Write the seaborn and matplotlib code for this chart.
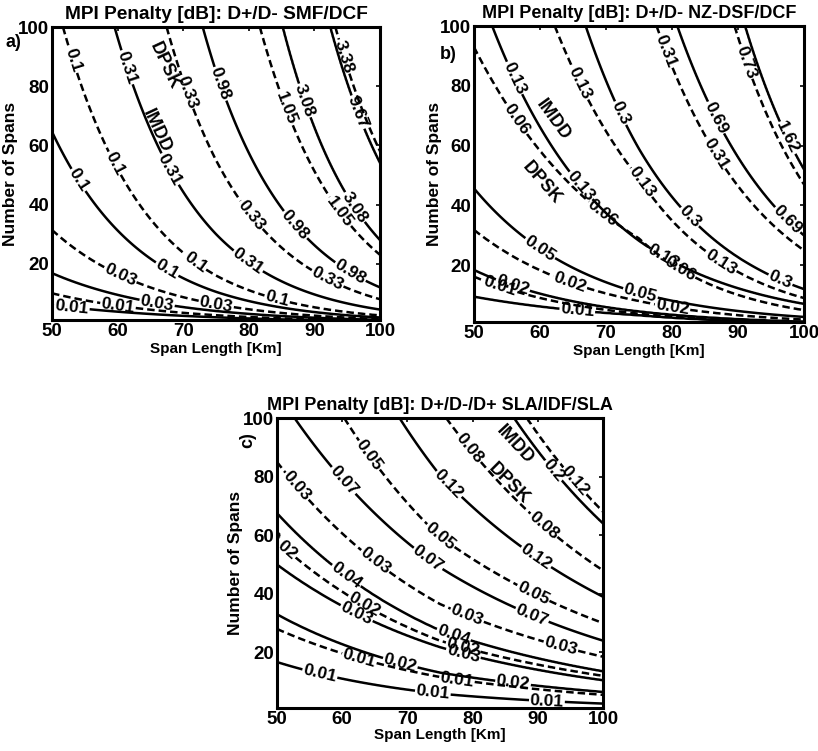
import numpy as np
import matplotlib
matplotlib.use("Agg")
import matplotlib.pyplot as plt
import seaborn as sns

span_nodes = [50, 75, 100]

# a) D+/D- SMF/DCF : number of spans where each contour crosses span_nodes
a_imdd_levels = ["0.01", "0.03", "0.1", "0.31", "0.98", "3.08", "9.67"]
a_imdd_spans = [[6, 1.9, 0.6], [16.8, 4, 1.0], [64.6, 10.5, 1.8], [210, 30, 4.5],
                [630, 85, 12], [1770, 240, 28], [3000, 410, 54]]
a_dpsk_levels = ["0.01", "0.03", "0.1", "0.33", "1.05", "3.38"]
a_dpsk_spans = [[10, 2.6, 0.7], [31.4, 6.3, 1.3], [114, 16, 2.5], [400, 55, 8],
                [1260, 171, 23], [3160, 428, 58]]

# b) D+/D- NZ-DSF/DCF
b_imdd_levels = ["0.01", "0.02", "0.05", "0.13", "0.3", "0.69", "1.62"]
b_imdd_spans = [[9.5, 3.3, 0.8], [18.4, 4.5, 1.1], [45.7, 10.7, 2.7], [117, 28.2, 7.1],
                [303, 58.9, 12], [730, 144, 30], [1650, 324, 52]]
b_dpsk_levels = ["0.01", "0.02", "0.06", "0.13", "0.31", "0.73"]
b_dpsk_spans = [[16.2, 3.8, 0.9], [31.8, 8, 1.8], [93, 29, 5], [198, 49, 9],
                [530, 118, 25], [1430, 282, 47]]

# c) D+/D-/D+ SLA/IDF/SLA
c_imdd_levels = ["0.01", "0.02", "0.03", "0.04", "0.07", "0.12", "0.2"]
c_imdd_spans = [[16.7, 5.9, 2.5], [33, 13.1, 6.5], [50, 21.8, 10.5], [67.5, 27.5, 13.5],
                [109, 49, 24], [193, 80.5, 39], [348, 145, 64]]
c_dpsk_levels = ["0.01", "0.02", "0.03", "0.05", "0.08", "0.12"]
c_dpsk_spans = [[28, 11.6, 5.5], [58, 24, 12], [85, 36.5, 18.5], [144, 59.5, 30],
                [253, 103, 48], [380, 155, 68]]

# where the contour labels sit (span length, number of spans)
a_imdd_lab = [(53, 5), (66, 6.5), (53.8, 48), (67.5, 18), (60.9, 86), (68, 52), (79.7, 20.3),
              (74.6, 80), (87, 33), (95.4, 17), (88.3, 75), (95.4, 38), (95, 70)]
a_dpsk_lab = [(60, 5), (60.4, 16.2), (75, 6), (52.2, 88), (59.6, 54), (72, 21), (84.3, 8),
              (70.5, 78), (80.7, 37), (92, 15), (85.2, 72), (92.9, 36), (94.5, 90)]
b_imdd_lab = [(55.5, 82), (66, 46.3), (78.7, 22.9), (72.1, 70.8), (82.7, 36.2), (96.4, 15),
              (85.8, 68.6), (96.4, 32.9), (97, 62), (59.5, 24), (75.2, 10.6), (65.6, 4),
              (56, 14)]
b_dpsk_lab = [(55.5, 67.4), (69.1, 36.2), (80.7, 17), (66.1, 80.8), (75.2, 47.4), (87.3, 20.6),
              (78.2, 90.9), (85.8, 56.3), (90.8, 87.6), (64.5, 13.9), (80, 4.5), (54, 13)]
c_imdd_lab = [(59.7, 77.7), (73, 51.5), (88.8, 31), (76.5, 77.7), (89.8, 52.7), (91.4, 80),
              (60.2, 44.7), (77, 25.3), (61.7, 31), (78.6, 19.7), (68.9, 16.3), (86.2, 9.4),
              (56.6, 13), (73.9, 6.1), (91.4, 3.1)]
c_dpsk_lab = [(53, 76.6), (64.8, 50.4), (79.1, 32.2), (93.4, 20.8), (63.8, 86.8), (75, 59.5),
              (88.8, 37.9), (78.6, 87.9), (89.8, 60.6), (95.4, 77.8), (51, 57), (63.2, 35.6),
              (78.6, 22), (62.7, 18.5), (77.6, 10.6)]

sns.set_theme(style="white")
plt.rcParams["font.family"] = ["Liberation Sans", "DejaVu Sans"]
plt.rcParams["font.weight"] = "bold"
plt.rcParams["axes.titleweight"] = "bold"
plt.rcParams["axes.labelweight"] = "bold"
plt.rcParams["text.color"] = "black"
plt.rcParams["axes.labelcolor"] = "black"
plt.rcParams["xtick.color"] = "black"
plt.rcParams["ytick.color"] = "black"
plt.rcParams["lines.dashed_pattern"] = [3.0, 1.6]

L = np.linspace(50, 100, 251)
N = np.linspace(1, 100, 400)


def penalty_field(cross):
    # index of the contour as a function of (span length, spans), built from the crossings
    logc = np.log(np.array(cross, dtype=float))
    cl = np.array([np.interp(L, span_nodes, row) for row in logc])
    n = len(cross)
    idx = np.arange(n, dtype=float)
    Z = np.empty((len(N), len(L)))
    lnN = np.log(N)
    for j in range(len(L)):
        xp = np.r_[cl[0, j] - 10, cl[:, j], cl[-1, j] + 10]
        fp = np.r_[-10, idx, n - 1 + 10]
        Z[:, j] = np.interp(lnN, xp, fp)
    return Z


def draw_panel(ax, title, sets, title_size):
    for levels, cross, ls, lab in sets:
        Z = penalty_field(cross)
        cs = ax.contour(L, N, Z, levels=np.arange(len(levels)), colors="black",
                        linewidths=1.8, linestyles=ls)
        ax.clabel(cs, cs.levels, manual=lab, inline=True, inline_spacing=1,
                  fmt=dict(zip(cs.levels, levels)), fontsize=12.5)
    ax.set_xlim(50, 100)
    ax.set_ylim(1, 100)
    ax.set_xticks([50, 60, 70, 80, 90, 100])
    ax.set_yticks([20, 40, 60, 80, 100])
    ax.tick_params(direction="in", top=True, right=True, length=3, width=1.2,
                   labelsize=13.5, pad=2)
    for s in ax.spines.values():
        s.set_linewidth(2.2)
        s.set_color("black")
    ax.set_title(title, fontsize=title_size, pad=6)
    ax.set_xlabel("Span Length [Km]", fontsize=11)
    ax.set_ylabel("Number of Spans", fontsize=12.5)


fig = plt.figure(figsize=(8.18, 7.51), dpi=100)
ax_a = fig.add_axes([0.0636, 0.574, 0.401, 0.390])
ax_b = fig.add_axes([0.5795, 0.5712, 0.4034, 0.394])
ax_c = fig.add_axes([0.3386, 0.0573, 0.3985, 0.386])

draw_panel(ax_a, "MPI Penalty [dB]: D+/D- SMF/DCF",
           [(a_imdd_levels, a_imdd_spans, "solid", a_imdd_lab),
            (a_dpsk_levels, a_dpsk_spans, "dashed", a_dpsk_lab)], 13.8)
draw_panel(ax_b, "MPI Penalty [dB]: D+/D- NZ-DSF/DCF",
           [(b_imdd_levels, b_imdd_spans, "solid", b_imdd_lab),
            (b_dpsk_levels, b_dpsk_spans, "dashed", b_dpsk_lab)], 13)
draw_panel(ax_c, "MPI Penalty [dB]: D+/D-/D+ SLA/IDF/SLA",
           [(c_imdd_levels, c_imdd_spans, "solid", c_imdd_lab),
            (c_dpsk_levels, c_dpsk_spans, "dashed", c_dpsk_lab)], 13)

ax_a.yaxis.set_label_coords(-0.105, 0.5)
ax_b.yaxis.set_label_coords(-0.098, 0.5)
ax_c.yaxis.set_label_coords(-0.104, 0.5)
ax_a.xaxis.set_label_coords(0.5, -0.075)
ax_b.xaxis.set_label_coords(0.5, -0.075)
ax_c.xaxis.set_label_coords(0.5, -0.07)

# format names written along the curves
ax_a.text(66, 65, "IMDD", rotation=-65, ha="center", va="center", fontsize=13)
ax_a.text(67.2, 87, "DPSK", rotation=-65, ha="center", va="center", fontsize=13)
ax_b.text(62, 68.6, "IMDD", rotation=-54, ha="center", va="center", fontsize=13)
ax_b.text(60.3, 47.4, "DPSK", rotation=-49, ha="center", va="center", fontsize=13)
ax_c.text(86.5, 90.8, "IMDD", rotation=-47, ha="center", va="center", fontsize=13)
ax_c.text(85.5, 77.7, "DPSK", rotation=-45, ha="center", va="center", fontsize=13)

fig.text(0.017, 0.943, "a)", fontsize=13, ha="center", va="center")
fig.text(0.548, 0.927, "b)", fontsize=13, ha="center", va="center")
fig.text(0.303, 0.414, "c)", fontsize=13, ha="center", va="center", rotation=90)

fig.savefig("out.png", dpi=100)
